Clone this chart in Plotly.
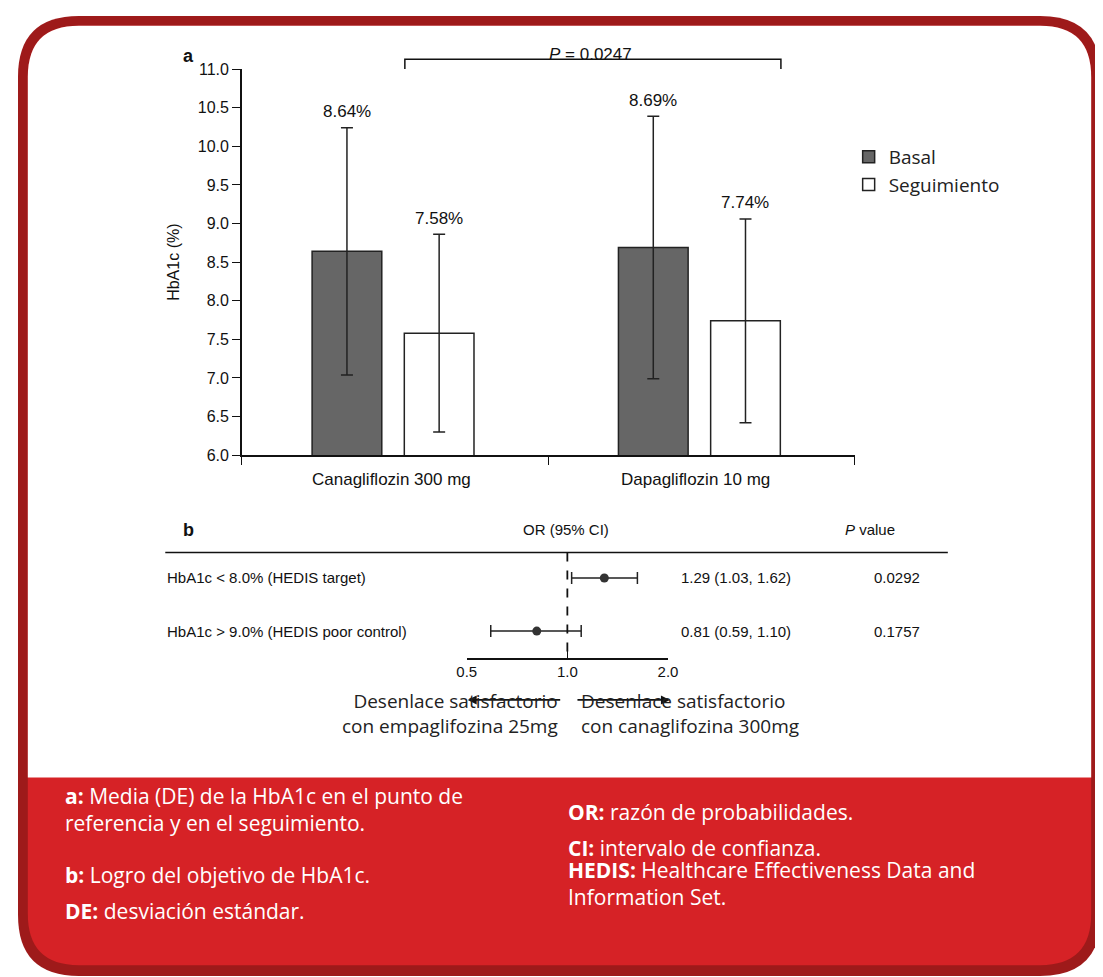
import plotly.graph_objects as go

W, H = 1103, 977
def px(x): return x / W
def py(y): return 1 - y / H

# Panel a data
groups = ["Canagliflozin 300 mg", "Dapagliflozin 10 mg"]
basal_mean = [8.64, 8.69]
basal_sd = [1.60, 1.70]
follow_mean = [7.58, 7.74]
follow_sd = [1.28, 1.32]
basal_pos = [0.686, 2.686]
follow_pos = [1.288, 3.288]
p_text = "0.0247"

# Panel b data
rows = ["HbA1c < 8.0% (HEDIS target)", "HbA1c > 9.0% (HEDIS poor control)"]
row_y = [2, 1]
or_val = [1.29, 0.81]
ci_low = [1.03, 0.59]
ci_high = [1.62, 1.10]
pvals = ["0.0292", "0.1757"]
or_ticks = [0.5, 1.0, 2.0]

BORDER = "#9e1a1a"
RED = "#d62226"
DARK = "#666666"
F = "Liberation Sans, Arial, sans-serif"
OS = "Open Sans, sans-serif"

fig = go.Figure()
err = dict(type="data", visible=True, color="#222", thickness=1.5, width=6)
fig.add_trace(go.Bar(x=basal_pos, y=basal_mean, width=0.455, name="Basal",
                     marker=dict(color=DARK, line=dict(color="#222", width=1.5)),
                     error_y=dict(array=basal_sd, **err), xaxis="x", yaxis="y"))
fig.add_trace(go.Bar(x=follow_pos, y=follow_mean, width=0.455, name="Seguimiento",
                     marker=dict(color="white", line=dict(color="#222", width=1.5)),
                     error_y=dict(array=follow_sd, **err), xaxis="x", yaxis="y"))
fig.add_trace(go.Scatter(x=or_val, y=row_y, mode="markers", showlegend=False,
                         marker=dict(color="#333", size=9),
                         error_x=dict(type="data", symmetric=False,
                                      array=[h - v for h, v in zip(ci_high, or_val)],
                                      arrayminus=[v - l for v, l in zip(or_val, ci_low)],
                                      color="#222", thickness=1.5, width=6),
                         xaxis="x2", yaxis="y2"))

ann = []
for pos, m, s in zip(basal_pos + follow_pos, basal_mean + follow_mean, basal_sd + follow_sd):
    ann.append(dict(x=pos, y=m + s, xref="x", yref="y", text=f"{m:.2f}%", showarrow=False,
                    yshift=16, font=dict(family=F, size=17, color="#111")))
for g, cx in zip(groups, [380, 690]):
    ann.append(dict(x=px(cx), y=py(472), xref="paper", yref="paper", text=g, showarrow=False,
                    font=dict(family=F, size=17, color="#111")))
ann.append(dict(x=px(583), y=py(27), xref="paper", yref="paper", text=f"<i>P</i> = {p_text}",
                showarrow=False, font=dict(family=F, size=17, color="#111")))
ann.append(dict(x=px(166), y=py(28), xref="paper", yref="paper", text="<b>a</b>",
                showarrow=False, font=dict(family=F, size=18, color="#111")))
ann.append(dict(x=px(166), y=py(523), xref="paper", yref="paper", text="<b>b</b>",
                showarrow=False, font=dict(family=F, size=18, color="#111")))
ann.append(dict(x=px(558), y=py(523), xref="paper", yref="paper", text="OR (95% CI)",
                showarrow=False, font=dict(family=F, size=15, color="#111")))
ann.append(dict(x=px(895), y=py(523), xref="paper", yref="paper", text="<i>P</i> value",
                showarrow=False, font=dict(family=F, size=15, color="#111")))
for r, yv, o, l, h, p in zip(rows, row_y, or_val, ci_low, ci_high, pvals):
    ann.append(dict(x=px(150), y=yv, xref="paper", yref="y2", text=r, showarrow=False,
                    xanchor="left", font=dict(family=F, size=15, color="#111")))
    ann.append(dict(x=px(673), y=yv, xref="paper", yref="y2", text=f"{o:.2f} ({l:.2f}, {h:.2f})",
                    showarrow=False, xanchor="left", font=dict(family=F, size=15, color="#111")))
    ann.append(dict(x=px(870), y=yv, xref="paper", yref="y2", text=p, showarrow=False,
                    xanchor="left", font=dict(family=F, size=15, color="#111")))
# arrows
ann.append(dict(x=px(458), y=py(696), ax=94, ay=0, xref="paper", yref="paper",
                text="", showarrow=True, arrowhead=2,
                arrowsize=1, arrowwidth=1.8, arrowcolor="#111"))
ann.append(dict(x=px(664), y=py(696), ax=-94, ay=0, xref="paper", yref="paper",
                text="", showarrow=True, arrowhead=2,
                arrowsize=1, arrowwidth=1.8, arrowcolor="#111"))
ann.append(dict(x=px(552), y=py(738), xref="paper", yref="paper", xanchor="right",
                text="Desenlace satisfactorio<br>con empaglifozina 25mg", align="right",
                showarrow=False, font=dict(family=OS, size=19, color="#222")))
ann.append(dict(x=px(571), y=py(738), xref="paper", yref="paper", xanchor="left",
                text="Desenlace satisfactorio<br>con canaglifozina 300mg", align="left",
                showarrow=False, font=dict(family=OS, size=19, color="#222")))
# footer
foot_left = [("<b>a:</b> Media (DE) de la HbA1c en el punto de<br>referencia y en el seguimiento.", 838),
             ("<b>b:</b> Logro del objetivo de HbA1c.", 890),
             ("<b>DE:</b> desviación estándar.", 927)]
foot_right = [("<b>OR:</b> razón de probabilidades.", 826),
              ("<b>CI:</b> intervalo de confianza.", 863),
              ("<b>HEDIS:</b> Healthcare Effectiveness Data and<br>Information Set.", 913)]
for t, yy in foot_left:
    ann.append(dict(x=px(46), y=py(yy), xref="paper", yref="paper", xanchor="left", align="left",
                    text=t, showarrow=False, font=dict(family=OS, size=21, color="white")))
for t, yy in foot_right:
    ann.append(dict(x=px(558), y=py(yy), xref="paper", yref="paper", xanchor="left", align="left",
                    text=t, showarrow=False, font=dict(family=OS, size=21, color="white")))

def rpath(x0, y0, x1, y1, r):
    X0, X1 = px(x0), px(x1)
    Y0, Y1 = py(y0), py(y1)
    rx, ry = r / W, r / H
    return (f"M {X0+rx},{Y0} L {X1-rx},{Y0} Q {X1},{Y0} {X1},{Y0-ry} L {X1},{Y1+ry} "
            f"Q {X1},{Y1} {X1-rx},{Y1} L {X0+rx},{Y1} Q {X0},{Y1} {X0},{Y1+ry} "
            f"L {X0},{Y0-ry} Q {X0},{Y0} {X0+rx},{Y0} Z")

shapes = [
    dict(type="path", path=rpath(0, 0, 1103, 977, 62), xref="paper", yref="paper",
         fillcolor=BORDER, line=dict(width=0), layer="below"),
    dict(type="path", path=rpath(10, 10, 1093, 966, 52), xref="paper", yref="paper",
         fillcolor=RED, line=dict(width=0), layer="below"),
    dict(type="path", path=(f"M {px(10)},{py(775)} L {px(10)},{py(62)} Q {px(10)},{py(10)} {px(62)},{py(10)} "
                            f"L {px(1041)},{py(10)} Q {px(1093)},{py(10)} {px(1093)},{py(62)} L {px(1093)},{py(775)} Z"),
         xref="paper", yref="paper", fillcolor="white", line=dict(width=0), layer="below"),
    dict(type="path", path=f"M {px(394)},{py(54)} L {px(394)},{py(44)} L {px(777)},{py(44)} L {px(777)},{py(54)}",
         xref="paper", yref="paper", line=dict(color="#111", width=1.5)),
    dict(type="line", x0=px(150), x1=px(947), y0=py(546), y1=py(546), xref="paper", yref="paper",
         line=dict(color="#111", width=1.5)),
    dict(type="line", x0=1, x1=1, y0=py(546), y1=py(653), xref="x2", yref="paper",
         line=dict(color="#111", width=1.8, dash="dash")),
]

fig.update_layout(
    width=W, height=H, margin=dict(l=0, r=0, t=0, b=0),
    paper_bgcolor="white", plot_bgcolor="rgba(0,0,0,0)",
    barmode="overlay", annotations=ann, shapes=shapes,
    legend=dict(x=px(846), y=py(124), xanchor="left", yanchor="top",
                font=dict(family=OS, size=19, color="#222"), bgcolor="rgba(0,0,0,0)",
                tracegroupgap=6),
    xaxis=dict(domain=[px(228), px(852)], range=[0, 4], tickvals=[0, 2, 4], ticktext=["", "", ""],
               ticks="outside", ticklen=8, tickcolor="#111", showline=True, linecolor="#111",
               linewidth=1.5, showgrid=False, zeroline=False),
    yaxis=dict(domain=[py(447), py(54)], range=[6, 11], dtick=0.5, tickformat=".1f",
               ticks="outside", ticklen=8, tickcolor="#111", showline=True, linecolor="#111",
               linewidth=1.5, showgrid=False, zeroline=False,
               tickfont=dict(family=F, size=16, color="#111"),
               title=dict(text="HbA1c (%)", font=dict(family=F, size=16, color="#111"), standoff=14)),
    xaxis2=dict(domain=[px(457), px(662)], type="log", range=[-0.30103, 0.30103],
                tickvals=or_ticks, ticktext=["0.5", "1.0", "2.0"], ticks="inside", ticklen=9,
                tickcolor="#111", showline=True, linecolor="#111", linewidth=1.5, showgrid=False,
                zeroline=False, anchor="y2", tickfont=dict(family=F, size=15, color="#111")),
    yaxis2=dict(domain=[py(653), py(546)], range=[0.5, 2.48], visible=False, anchor="x2"),
)
fig.write_html("out.html")
